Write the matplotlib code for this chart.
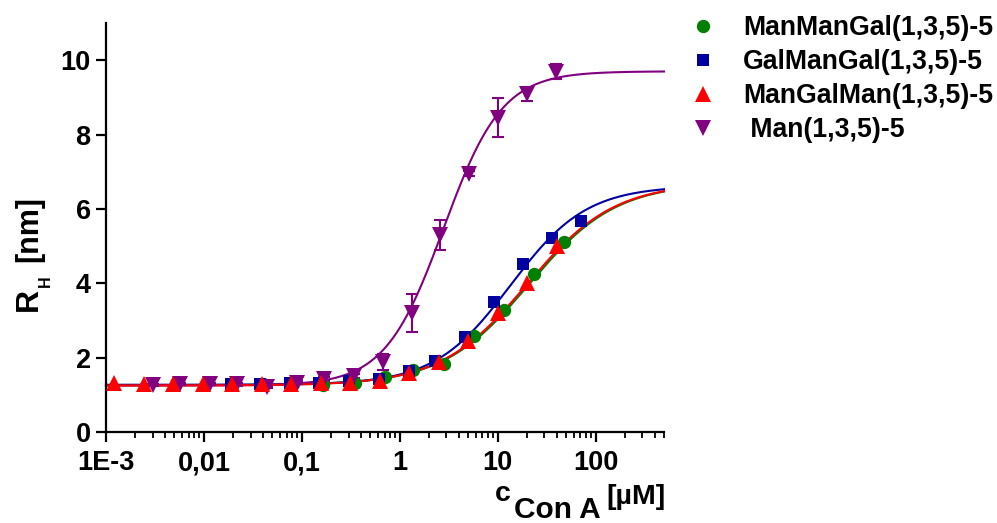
import numpy as np
import matplotlib
matplotlib.use("Agg")
import matplotlib.pyplot as plt
from matplotlib.ticker import FixedLocator, FixedFormatter, LogLocator, NullFormatter

plt.rcParams['font.family'] = ['Liberation Sans', 'DejaVu Sans']
plt.rcParams['font.weight'] = 'bold'

# Concentrations of Con A [µM] and hydrodynamic radii [nm]
conc_mmg = [0.040, 0.081, 0.166, 0.35, 0.70, 1.38, 2.83, 5.8, 11.6, 23.5, 47.6]
rh_mmg = [1.30, 1.28, 1.27, 1.32, 1.48, 1.66, 1.83, 2.57, 3.29, 4.26, 5.10]

conc_gmg = [0.019, 0.037, 0.075, 0.15, 0.30, 0.61, 1.23, 2.31, 4.69, 9.27, 18.2, 36.1, 70.3]
rh_gmg = [1.30, 1.29, 1.31, 1.33, 1.38, 1.42, 1.63, 1.92, 2.56, 3.50, 4.53, 5.22, 5.67]

conc_mgm = [0.00122, 0.00244, 0.00488, 0.00977, 0.0195, 0.039, 0.078, 0.156,
            0.3125, 0.625, 1.25, 2.5, 5.0, 10.0, 20.0, 40.0]
rh_mgm = [1.31, 1.30, 1.30, 1.29, 1.28, 1.28, 1.30, 1.31,
          1.33, 1.37, 1.60, 1.87, 2.45, 3.21, 4.01, 5.01]

conc_man = [0.00304, 0.00571, 0.0116, 0.0219, 0.0441, 0.0891, 0.167, 0.338,
            0.675, 1.34, 2.6, 5.08, 10.0, 20.0, 39.6]
rh_man = [1.27, 1.30, 1.30, 1.28, 1.22, 1.32, 1.42, 1.50,
          1.88, 3.20, 5.30, 6.95, 8.45, 9.10, 9.69]
err_man = [0.03, 0.03, 0.03, 0.03, 0.03, 0.04, 0.05, 0.06,
           0.22, 0.51, 0.40, 0.06, 0.52, 0.19, 0.20]

# Sigmoidal dose-response fits: bottom, top, EC50 [µM], Hill slope
fit_mmg = (1.26, 6.70, 21.0, 0.98)
fit_gmg = (1.27, 6.62, 13.5, 1.12)
fit_mgm = (1.25, 6.70, 20.0, 0.98)
fit_man = (1.25, 9.70, 2.8, 1.45)

labels = ['ManManGal(1,3,5)-5', 'GalManGal(1,3,5)-5', 'ManGalMan(1,3,5)-5', ' Man(1,3,5)-5']
colors = ['#008000', '#0000A0', '#FF0000', '#800080']

xticks = [1e-3, 1e-2, 1e-1, 1, 10, 100]
xticklabels = ['1E-3', '0,01', '0,1', '1', '10', '100']
yticks = [0, 2, 4, 6, 8, 10]

XMIN, XMAX = 1e-3, 500


def dose_response(x, bottom, top, ec50, hill):
    return bottom + (top - bottom) / (1.0 + (ec50 / x) ** hill)


W, H = 997, 523
fig = plt.figure(figsize=(W / 100, H / 100), dpi=100)
ax = fig.add_axes([106 / W, 91 / H, 558 / W, 409 / H])

xs = np.logspace(np.log10(XMIN), np.log10(XMAX), 500)

series = [
    (conc_mmg, rh_mmg, None, fit_mmg, 'o', 9.6),
    (conc_gmg, rh_gmg, None, fit_gmg, 's', 9.2),
    (conc_man, rh_man, err_man, fit_man, 'v', 11.0),
    (conc_mgm, rh_mgm, None, fit_mgm, '^', 11.0),
]
order = [0, 1, 3, 2]
handles = [None] * 4
for z, (cx, cy, ce, fp, mk, ms) in enumerate(series):
    idx = order[z]
    col = colors[idx]
    ax.plot(xs, dose_response(xs, *fp), color=col, lw=1.5, zorder=2 + z * 0.1,
            clip_on=False)
    if ce is not None:
        ax.errorbar(cx, cy, yerr=ce, fmt='none', ecolor=col, elinewidth=1.5,
                    capsize=4.5, capthick=1.5, zorder=3 + z * 0.1)
    h, = ax.plot(cx, cy, linestyle='none', marker=mk, ms=ms, color=col,
                 markeredgewidth=0, zorder=4 + z * 0.1, clip_on=False)
    handles[idx] = h

ax.set_xscale('log')
ax.set_xlim(XMIN, XMAX)
ax.set_ylim(0, 11)
ax.xaxis.set_major_locator(FixedLocator(xticks))
ax.xaxis.set_major_formatter(FixedFormatter(xticklabels))
ax.xaxis.set_minor_locator(LogLocator(base=10, subs=np.arange(2, 10)))
ax.xaxis.set_minor_formatter(NullFormatter())
ax.set_yticks(yticks)
ax.set_yticklabels([str(v) for v in yticks])

for s in ['top', 'right']:
    ax.spines[s].set_visible(False)
for s in ['left', 'bottom']:
    ax.spines[s].set_linewidth(1.6)
ax.tick_params(axis='both', which='major', direction='out', length=7, width=1.6,
               labelsize=19.5, pad=4)
ax.tick_params(axis='x', which='major', pad=6)
ax.tick_params(axis='x', which='minor', direction='out', length=4, width=1.3)
for t in ax.get_xticklabels() + ax.get_yticklabels():
    t.set_fontweight('bold')

# axis titles
fx = lambda px: px / W
fy = lambda py: 1 - py / H
fig.text(fx(37), fy(311), 'R', rotation=90, rotation_mode='anchor', ha='left',
         va='baseline', fontsize=23, fontweight='bold')
fig.text(fx(50), fy(287), 'H', rotation=90, rotation_mode='anchor', ha='left',
         va='baseline', fontsize=11.5, fontweight='bold')
fig.text(fx(37), fy(262), '[nm]', rotation=90, rotation_mode='anchor', ha='left',
         va='baseline', fontsize=22, fontweight='bold')

fig.text(fx(495), fy(501), 'c', ha='left', va='baseline', fontsize=20.5, fontweight='bold')
fig.text(fx(514), fy(518), 'Con A', ha='left', va='baseline', fontsize=21.5, fontweight='bold')
fig.text(fx(606), fy(504), '[\u00b5M]', ha='left', va='baseline', fontsize=20.5, fontweight='bold')

leg = fig.legend(handles, labels, loc='upper left', bbox_to_anchor=(fx(690), fy(15)),
                 frameon=False, handlelength=1.0, handletextpad=0.98,
                 labelspacing=0.30, borderpad=0, borderaxespad=0,
                 prop={'weight': 'bold', 'size': 19.2})

fig.savefig('out.png', dpi=100)
